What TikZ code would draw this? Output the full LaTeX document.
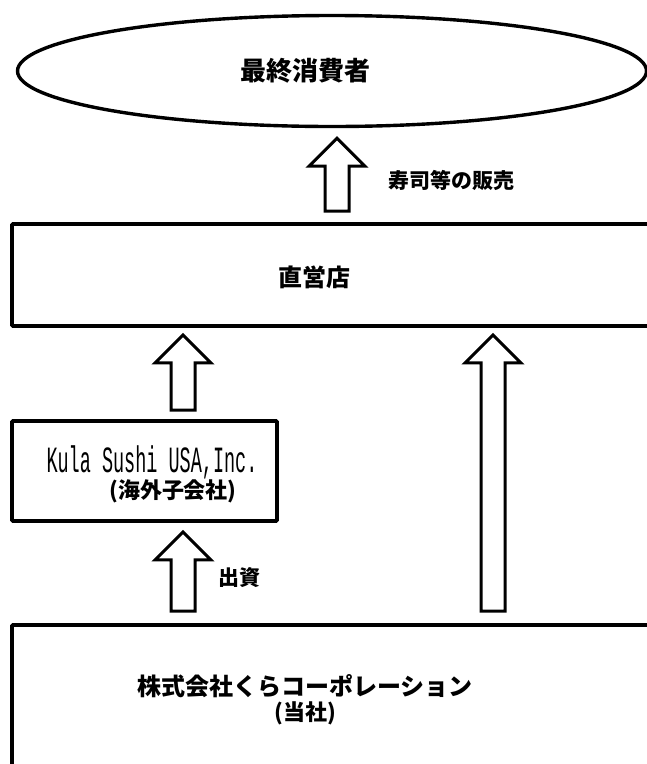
\documentclass[tikz,border=0pt]{standalone}
\usepackage{fontspec}
\newfontfamily\jp{Noto Sans CJK JP}
\setmonofont{Liberation Mono}
\usetikzlibrary{shapes,positioning,calc}

\tikzset{
  box/.style={draw, line width=3.8pt, rounded corners=1pt, inner sep=0pt},
  jtext/.style={font={\jp\bfseries\fontsize{#1pt}{#1pt}\selectfont}, inner sep=0pt},
  jtext/.default=24,
  fatarrow/.style={draw, line width=3pt, line join=miter,
    to path={let \p1=(\tikztostart), \p2=(\tikztotarget) in
      (\x1-12pt,\y1) -- (\x1-12pt,\y2-28pt) -- (\x1-28pt,\y2-28pt) -- (\x1,\y2)
      -- (\x1+28pt,\y2-28pt) -- (\x1+12pt,\y2-28pt) -- (\x1+12pt,\y1) -- cycle}},
}

\begin{document}
\begin{tikzpicture}[x=1pt,y=-1pt]
  \useasboundingbox (0,0) rectangle (647,764);

  % boxes
  \node[draw, ellipse, line width=3.4pt, minimum width=629pt, minimum height=111pt] (consumer) at (332,71) {};
  \node[box, minimum width=708pt, minimum height=102pt] (store) at (366,275) {};
  \node[box, minimum width=265pt, minimum height=100pt] (kula) at (144.5,471) {};
  \node[box, minimum width=708pt, minimum height=175pt] (parent) at (366,712.5) {};

  % texts
  \node[jtext=26] (consumertxt) at (305,71) {最終消費者};
  \node[jtext=24] (storetxt) at (314,277) {直営店};
  \node[font=\ttfamily\fontsize{18.5pt}{20pt}\selectfont, inner sep=0pt] (kulaname) at (152,462) {\scalebox{1}[2]{Kula Sushi USA,Inc.}};
  \node[jtext=22] (kulanote) at (173,491) {(海外子会社)};
  \node[jtext=24] (parenttxt) at (305,686) {株式会社くらコーポレーション};
  \node[jtext=22] (parentnote) at (305,713) {(当社)};

  \coordinate (sellx) at (337,0);
  \coordinate (leftx) at (183,0);
  \coordinate (rightx) at (493,0);

  % block arrows
  \draw[fatarrow] ([yshift=11pt]store.north -| sellx) to ([yshift=-10pt]consumer.south -| sellx);
  \draw[fatarrow] ([yshift=9pt]kula.north -| leftx) to ([yshift=-7pt]store.south -| leftx);
  \draw[fatarrow] ([yshift=12pt]parent.north -| leftx) to ([yshift=-9pt]kula.south -| leftx);
  \draw[fatarrow] ([yshift=12pt]parent.north -| rightx) to ([yshift=-7pt]store.south -| rightx);

  \node[jtext=21, anchor=west] (selllbl) at (388,180) {寿司等の販売};
  \node[jtext=21, anchor=west] (investlbl) at (218,578) {出資};
\end{tikzpicture}
\end{document}
